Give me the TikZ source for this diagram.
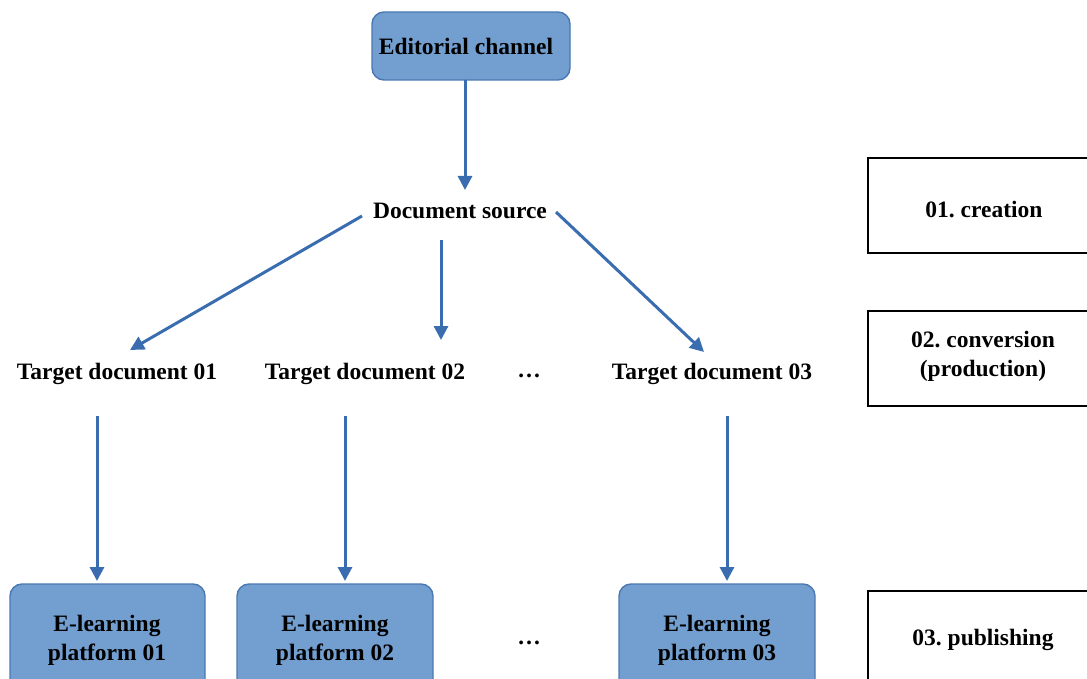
\documentclass[tikz,border=0pt]{standalone}
\usepackage{fontspec}
\setmainfont{Liberation Serif}
\usetikzlibrary{arrows.meta}
\definecolor{boxfill}{HTML}{729FCF}
\definecolor{boxline}{HTML}{4A78B2}
\definecolor{arrowc}{HTML}{3A6CB0}
\tikzset{
  x=1pt, y=-1pt,
  bluebox/.style={draw=boxline, line width=1.4pt, fill=boxfill, rounded corners=12pt},
  phasebox/.style={draw=black, line width=2.8pt},
  lbl/.style={font=\bfseries\fontsize{23.5}{29}\selectfont\frenchspacing, text=black, inner sep=0pt, align=center},
  arr/.style={draw=arrowc, line width=3pt, -{Triangle[length=14pt,width=14pt]}}
}
\begin{document}
\begin{tikzpicture}
\useasboundingbox (0,0) rectangle (1087,679);
\clip (0,0) rectangle (1087,679);
% boxes
\draw[bluebox] (372,12) rectangle (570,80);
\node[lbl] (ed) at (466,46) {Editorial channel};
\coordinate (edb) at (465,80);

\node[lbl] (src) at (460,211) {Document source};
\coordinate (srcL) at (362,216);
\coordinate (srcM) at (441,240);
\coordinate (srcR) at (556,212);

\node[lbl] (t1) at (117,374) {Target document 01};
\node[lbl] (t2) at (365,374) {Target document 02};
\node[lbl] (dots1) at (529,376) {\dots};
\node[lbl] (t3) at (712,374) {Target document 03};

\draw[bluebox] (10,584) rectangle (205,700);
\draw[bluebox] (237,584) rectangle (433,700);
\draw[bluebox] (619,584) rectangle (815,700);
\node[lbl] (p1) at (107,640) {E-learning\\platform 01};
\node[lbl] (p2) at (335,640) {E-learning\\platform 02};
\node[lbl] (p3) at (717,640) {E-learning\\platform 03};
\node[lbl] (dots2) at (529,643) {\dots};

% phase boxes
\draw[phasebox] (868,158) rectangle (1100,253);
\draw[phasebox] (868,311) rectangle (1100,406);
\draw[phasebox] (868,591) rectangle (1100,700);
\node[lbl] (ph1) at (984,210) {01. creation};
\node[lbl] (ph2) at (983,356) {02. conversion\\(production)};
\node[lbl] (ph3) at (983,640) {03. publishing};

% arrows
\coordinate (a0) at (465,190);
\draw[arr] (edb) -- (a0);
\coordinate (a1) at (130,350);
\coordinate (a2) at (441,340);
\coordinate (a3) at (704,352);
\draw[arr] (srcL) -- (a1);
\draw[arr] (srcM) -- (a2);
\draw[arr] (srcR) -- (a3);
\coordinate (b1s) at (97,416); \coordinate (b1e) at (97,581);
\coordinate (b2s) at (345,416); \coordinate (b2e) at (345,581);
\coordinate (b3s) at (727,416); \coordinate (b3e) at (727,581);
\draw[arr] (b1s) -- (b1e);
\draw[arr] (b2s) -- (b2e);
\draw[arr] (b3s) -- (b3e);
\end{tikzpicture}
\end{document}
